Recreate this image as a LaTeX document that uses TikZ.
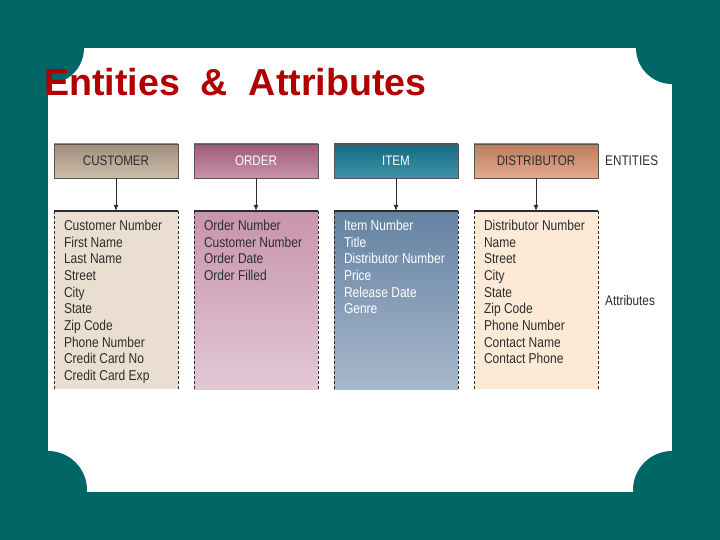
\documentclass[tikz,border=0pt]{standalone}
\usepackage{fontspec}
\setmainfont{Liberation Sans}
\newfontfamily\cond[FakeStretch=0.84]{Liberation Sans}
\usetikzlibrary{arrows.meta}
\definecolor{bgteal}{RGB}{0,102,102}
\definecolor{titlered}{RGB}{176,0,0}
\definecolor{custA}{RGB}{160,142,122}
\definecolor{custB}{RGB}{204,190,172}
\definecolor{custF}{RGB}{234,222,208}
\definecolor{ordA}{RGB}{160,92,122}
\definecolor{ordB}{RGB}{200,146,170}
\definecolor{ordF1}{RGB}{200,148,172}
\definecolor{ordF2}{RGB}{226,200,212}
\definecolor{itmA}{RGB}{22,106,130}
\definecolor{itmB}{RGB}{62,146,168}
\definecolor{itmF1}{RGB}{100,130,162}
\definecolor{itmF2}{RGB}{168,184,204}
\definecolor{disA}{RGB}{190,124,94}
\definecolor{disB}{RGB}{226,170,142}
\definecolor{disF}{RGB}{252,234,214}
\definecolor{ink}{RGB}{45,45,45}
\begin{document}
\begin{tikzpicture}[x=1pt,y=-1pt,
  hdr/.style={draw=ink!80, line width=0.8pt, minimum width=124pt, minimum height=34pt, inner sep=0pt,
     font=\cond\fontsize{13.8}{15}\selectfont},
  attbox/.style={minimum width=124pt, minimum height=178pt, inner sep=0pt, draw=none},
  atttxt/.style={anchor=north west, inner sep=0pt, align=left, font=\cond\fontsize{14.3}{16.67}\selectfont},
  side/.style={ink, dashed, dash pattern=on 3pt off 2pt, line width=0.6pt},
  topline/.style={ink, line width=1.6pt},
  link/.style={ink, line width=0.7pt, -{Latex[length=6pt,width=5pt]}},
  lbl/.style={anchor=west, inner sep=0pt, font=\cond\fontsize{14}{15}\selectfont, text=ink}
]
\useasboundingbox (0,0) rectangle (720,540);
\fill[bgteal] (0,0) rectangle (720,540);
\fill[white] (48,48) rectangle (672,492);
\fill[bgteal] (48,48) circle (36);
\fill[bgteal] (672,48) circle (36);
\fill[bgteal] (48,490) circle (39);
\fill[bgteal] (672,490) circle (39);
\node[anchor=base west, inner sep=0pt, text=titlered, font=\bfseries\fontsize{37.6}{40}\selectfont] (title) at (44,96) {Entities\ \ \&\ \ Attributes};

% headers
\node[hdr, top color=custA, bottom color=custB, text=ink] (h1) at (116,161) {CUSTOMER};
\node[hdr, top color=ordA, bottom color=ordB, text=white] (h2) at (256,161) {ORDER};
\node[hdr, top color=itmA, bottom color=itmB, text=white] (h3) at (396,161) {ITEM};
\node[hdr, top color=disA, bottom color=disB, text=ink] (h4) at (536,161) {DISTRIBUTOR};
\node[lbl] (ent) at (605,161) {ENTITIES};

% attribute boxes
\node[attbox, fill=custF] (a1) at (116,300) {};
\node[attbox, top color=ordF1, bottom color=ordF2] (a2) at (256,300) {};
\node[attbox, top color=itmF1, bottom color=itmF2] (a3) at (396,300) {};
\node[attbox, fill=disF] (a4) at (536,300) {};
\foreach \b in {a1,a2,a3,a4}{
  \draw[side] (\b.north west) -- (\b.south west);
  \draw[side] (\b.north east) -- (\b.south east);
  \draw[topline] (\b.north west) -- (\b.north east);
}
\node[lbl] (att) at (605,300) {Attributes};

\node[atttxt, text=ink] (t1) at ([xshift=10pt,yshift=-9pt]a1.north west) {Customer Number\\First Name\\Last Name\\Street\\City\\State\\Zip Code\\Phone Number\\Credit Card No\\Credit Card Exp};
\node[atttxt, text=ink] (t2) at ([xshift=10pt,yshift=-9pt]a2.north west) {Order Number\\Customer Number\\Order Date\\Order Filled};
\node[atttxt, text=white] (t3) at ([xshift=10pt,yshift=-9pt]a3.north west) {Item Number\\Title\\Distributor Number\\Price\\Release Date\\Genre};
\node[atttxt, text=ink] (t4) at ([xshift=10pt,yshift=-9pt]a4.north west) {Distributor Number\\Name\\Street\\City\\State\\Zip Code\\Phone Number\\Contact Name\\Contact Phone};

\draw[link] (h1.south) -- (a1.north);
\draw[link] (h2.south) -- (a2.north);
\draw[link] (h3.south) -- (a3.north);
\draw[link] (h4.south) -- (a4.north);
\end{tikzpicture}
\end{document}
